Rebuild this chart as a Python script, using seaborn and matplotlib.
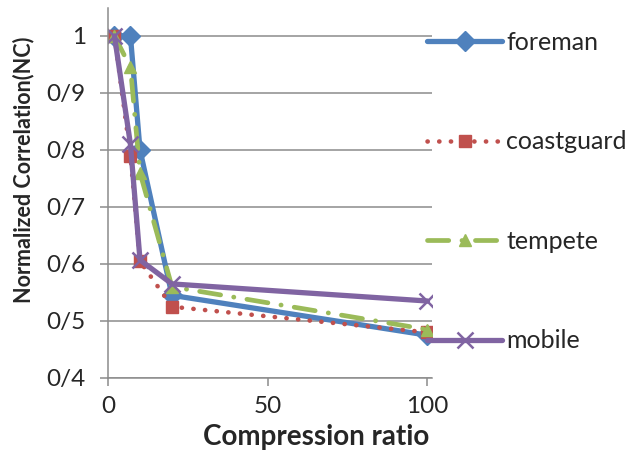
import matplotlib
matplotlib.use("Agg")
import matplotlib.pyplot as plt
import seaborn as sns

# data
ratios = [2, 7, 10, 20, 100]
foreman = [1.0, 1.0, 0.80, 0.545, 0.475]
coastguard = [1.0, 0.79, 0.605, 0.525, 0.48]
tempete = [1.0, 0.945, 0.76, 0.56, 0.485]
mobile = [1.0, 0.81, 0.607, 0.565, 0.535]
yticks = [0.4, 0.5, 0.6, 0.7, 0.8, 0.9, 1.0]
ytick_labels = ["0/4", "0/5", "0/6", "0/7", "0/8", "0/9", "1"]
xticks = [0, 50, 100]

sns.set_style("white")
plt.rcParams["font.family"] = ["Lato", "DejaVu Sans"]

fig = plt.figure(figsize=(6.32, 4.57), dpi=100)
ax = fig.add_axes([0.171, 0.1729, 0.513, 0.8096])

# series styles (Excel 2010 palette)
styles = [
    ("foreman", foreman, dict(color="#4F81BD", lw=3.8, marker="D", ms=10, linestyle="-")),
    ("coastguard", coastguard, dict(color="#C0504D", lw=3.3, marker="s", ms=8,
                                    linestyle=(0, (0.05, 2.5)), dash_capstyle="round")),
    ("tempete", tempete, dict(color="#9BBB59", lw=3.4, marker="^", ms=9,
                              linestyle=(0, (4.5, 2.8, 0.05, 2.8)), dash_capstyle="round")),
    ("mobile", mobile, dict(color="#8064A2", lw=3.8, marker="x", ms=12, linestyle="-")),
]

for name, vals, kw in styles:
    sns.lineplot(x=ratios, y=vals, ax=ax, label=name, mec=kw["color"],
                 mew=1.8 if kw["marker"] == "x" else 1.0, **kw)

ax.set_xlim(0, 101.5)
ax.set_ylim(0.4, 1.049)
ax.set_xticks(xticks)
ax.set_yticks(yticks)
ax.set_yticklabels(ytick_labels)
ax.yaxis.grid(True, color="#8c8c8c", lw=1.1)
ax.xaxis.grid(False)

for s in ["top", "right"]:
    ax.spines[s].set_visible(False)
for s in ["left", "bottom"]:
    ax.spines[s].set_color("#8c8c8c")
    ax.spines[s].set_linewidth(1.1)
ax.tick_params(axis="both", which="major", length=6, width=1.1, color="#8c8c8c",
               labelsize=17.5, direction="out", left=True, bottom=True)
ax.tick_params(axis="y", pad=10)
ax.tick_params(axis="x", pad=7)

ax.set_xlabel("Compression ratio", fontsize=20, fontweight="bold")
ax.xaxis.set_label_coords(0.642, -0.125)
ax.set_ylabel("Normalized Correlation(NC)", fontsize=15.5, fontweight="bold")
ax.yaxis.set_label_coords(-0.228, 0.562)

ax.legend(loc="upper left", bbox_to_anchor=(0.985, 0.938), frameon=False, fontsize=18,
          handlelength=3.0, handletextpad=0.15, labelspacing=3.06, numpoints=1,
          borderaxespad=0.0, borderpad=0.0)

fig.savefig("out.png", dpi=100)
